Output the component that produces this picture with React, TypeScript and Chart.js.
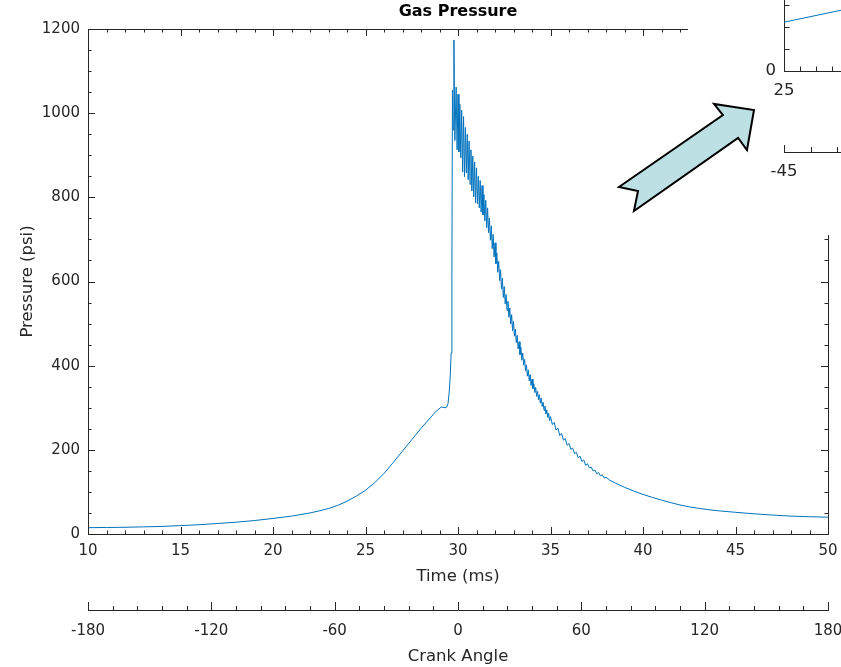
import React, { useEffect, useRef } from 'react';
import { Chart, registerables } from 'chart.js';

Chart.register(...registerables);

// ---------- data ----------
const timeMs = [
  10, 11, 12, 13, 14, 15, 16, 17, 18, 19, 20, 21, 22, 22.5, 23, 23.5, 24, 24.5, 25, 25.5, 26, 26.5,
  27, 27.5, 28, 28.5, 28.8, 29.1, 29.3, 29.4, 29.46, 29.52, 29.58, 29.63, 29.67, 29.7, 29.74, 29.78,
  29.83, 29.9, 29.95, 30.0, 30.05, 30.1, 30.15, 30.2, 30.25, 30.3, 30.35, 30.4, 30.45, 30.5,
  30.55, 30.6, 30.65, 30.7, 30.75, 30.8, 30.85, 30.9, 30.95, 31.0, 31.05, 31.1, 31.15, 31.2,
  31.25, 31.3, 31.35, 31.4, 31.45, 31.5, 31.55, 31.6, 31.65, 31.7, 31.75, 31.8, 31.85, 31.9,
  31.95, 32.0, 32.05, 32.1, 32.15, 32.2, 32.25, 32.3, 32.35, 32.4, 32.45, 32.5, 32.55, 32.6,
  32.65, 32.7, 32.75, 32.8, 32.85, 32.9, 32.95, 33.0, 33.05, 33.1, 33.15, 33.2, 33.25, 33.3,
  33.35, 33.4, 33.45, 33.5, 33.55, 33.6, 33.65, 33.7, 33.75, 33.8, 33.85, 33.9, 33.95, 34.0,
  34.05, 34.1, 34.15, 34.2, 34.25, 34.3, 34.35, 34.4, 34.45, 34.5, 34.55, 34.6, 34.65, 34.7,
  34.75, 34.8, 34.85, 34.9, 34.95, 35.0, 35.1, 35.2, 35.3, 35.4, 35.5, 35.6, 35.7, 35.8,
  35.9, 36.0, 36.1, 36.2, 36.3, 36.4, 36.5, 36.6, 36.7, 36.8, 36.9, 37.0, 37.1, 37.2, 37.3,
  37.4, 37.5, 37.6, 37.7, 37.8, 37.9, 38.0, 38.2, 38.5, 39, 39.5, 40, 40.5, 41, 41.5, 42,
  42.5, 43, 43.5, 44, 45, 46, 47, 48, 49, 50,
];
const pressurePsi = [
  15, 15.5, 16, 17, 18, 20, 22, 25, 28, 32, 37, 42.5, 50, 55, 60.5, 68, 78, 90, 104, 122, 144, 170,
  197, 224, 251, 276, 291, 302, 300, 302, 310, 335, 375, 430, 620, 1055, 960, 1174,
  935, 1062, 913, 1045, 908, 1021, 894, 1007, 860, 992, 849, 966, 858, 950,
  842, 934, 831, 913, 815, 898, 801, 884, 787, 870, 785, 850, 775, 840,
  765, 828, 758, 807, 744, 793, 728, 775, 716, 751, 698, 732, 678, 712,
  658, 692, 642, 668, 622, 648, 602, 628, 582, 608, 562, 588, 547, 569,
  531, 553, 515, 537, 499, 521, 483, 505, 470, 487, 455, 472, 440, 457,
  426, 444, 413, 430, 401, 415, 388, 402, 375, 390, 364, 379, 353, 368,
  345, 357, 336, 348, 327, 339, 319, 331, 311, 323, 303, 313, 294, 304,
  285, 295, 277, 287, 269, 279, 260, 265, 247, 252, 234, 239, 223, 227,
  211, 215, 201, 204, 191, 194, 181, 185, 172, 176, 163, 167, 157, 159, 150,
  152, 143, 146, 138, 141, 133, 135, 128, 121, 111, 102, 94, 87, 80.5, 74.5, 69,
  64.5, 61, 58, 55.5, 51.5, 48, 45, 42.5, 41, 40,
];

// inset (zoomed view, only its lower-left corner is visible)
const insetTimeMs = [25, 30];
const insetPressurePsi = [111, 149];

// arrow annotation, anchored in data units (time ms, psi)
const arrowTimeMs = [38.7, 44.32, 43.84, 46.0, 45.62, 45.14, 39.51, 39.73];
const arrowPsi = [824.6, 995.6, 1021.8, 1007.5, 912.5, 941.0, 767.5, 815.1];

const FONT = '"DejaVu Sans", sans-serif';
const INK = '#262626';
const BLUE = '#0072BD';

function line(ctx: CanvasRenderingContext2D, x1: number, y1: number, x2: number, y2: number) {
  ctx.moveTo(x1, y1);
  ctx.lineTo(x2, y2);
}
const al = (v: number) => Math.round(v) + 0.5;

export default function App() {
  const mainRef = useRef<HTMLCanvasElement>(null);
  const insetRef = useRef<HTMLCanvasElement>(null);
  const overlayRef = useRef<HTMLCanvasElement>(null);

  useEffect(() => {
    const mainTicks = {
      id: 'mainTicks',
      afterDraw(chart: any) {
        const ctx = chart.ctx as CanvasRenderingContext2D;
        const { left, right, top, bottom } = chart.chartArea;
        const xs = chart.scales.x;
        const ys = chart.scales.y;
        const cs = chart.scales.crank;
        ctx.save();
        ctx.strokeStyle = INK;
        ctx.lineWidth = 1;
        ctx.beginPath();
        line(ctx, left, al(top), right + 1, al(top));
        line(ctx, al(right), top, al(right), bottom + 1);
        for (let v = 10; v <= 50; v += 1) {
          const px = al(xs.getPixelForValue(v));
          const len = v % 5 === 0 ? 7 : 3.5;
          line(ctx, px, bottom, px, bottom - len);
          line(ctx, px, top, px, top + len);
        }
        for (let v = 0; v <= 1200; v += 50) {
          const py = al(ys.getPixelForValue(v));
          const len = v % 200 === 0 ? 7 : 3.5;
          line(ctx, left, py, left + len, py);
          line(ctx, right, py, right - len, py);
        }
        const cy = cs.top;
        for (let v = -180; v <= 180; v += 12) {
          const px = al(cs.getPixelForValue(v));
          const len = v % 60 === 0 ? 8 : 4;
          line(ctx, px, cy, px, cy - len);
        }
        ctx.stroke();
        ctx.restore();

        // arrow annotation on the overlay (above the inset)
        const ov = overlayRef.current;
        if (ov) {
          const o = ov.getContext('2d')!;
          o.clearRect(0, 0, ov.width, ov.height);
          o.beginPath();
          arrowTimeMs.forEach((t, i) => {
            const px = xs.getPixelForValue(t);
            const py = ys.getPixelForValue(arrowPsi[i]);
            if (i === 0) o.moveTo(px, py);
            else o.lineTo(px, py);
          });
          o.closePath();
          o.fillStyle = '#BDE0E4';
          o.fill();
          o.lineWidth = 2;
          o.lineJoin = 'miter';
          o.strokeStyle = '#000000';
          o.stroke();
        }
      },
    };

    const main = new Chart(mainRef.current!, {
      type: 'line',
      data: {
        datasets: [
          {
            data: timeMs.map((t, i) => ({ x: t, y: pressurePsi[i] })),
            borderColor: BLUE,
            borderWidth: 1,
            pointRadius: 0,
            tension: 0,
            fill: false,
          },
        ],
      },
      options: {
        responsive: false,
        animation: false,
        events: [],
        layout: { padding: { left: 0, right: 13, top: 0, bottom: 0 } },
        plugins: {
          legend: { display: false },
          tooltip: { enabled: false },
          title: {
            display: true,
            fullSize: false,
            text: 'Gas Pressure',
            color: '#000',
            font: { family: FONT, size: 16, weight: 'bold' },
            padding: { top: 2.4, bottom: 7.4 },
          },
        },
        scales: {
          x: {
            type: 'linear',
            position: 'bottom',
            weight: 0,
            min: 10,
            max: 50,
            ticks: {
              stepSize: 5,
              autoSkip: false,
              maxRotation: 0,
              color: INK,
              font: { family: FONT, size: 15 },
              padding: 8.5,
              callback: (v: any) => String(v),
            },
            grid: { display: false, drawTicks: false },
            border: { display: true, color: INK, width: 1 },
            title: {
              display: true,
              text: 'Time (ms)',
              color: INK,
              font: { family: FONT, size: 16.5 },
              padding: { top: 0, bottom: 23 },
            },
            afterFit: (s: any) => {
              s.height = 76;
              s.paddingLeft = 0;
              s.paddingRight = 0;
            },
          },
          crank: {
            type: 'linear',
            position: 'bottom',
            weight: 1,
            min: -180,
            max: 180,
            ticks: {
              stepSize: 60,
              autoSkip: false,
              maxRotation: 0,
              color: INK,
              font: { family: FONT, size: 15 },
              padding: 12,
              callback: (v: any) => String(v),
            },
            grid: { display: false, drawTicks: false },
            border: { display: true, color: INK, width: 1 },
            title: {
              display: true,
              text: 'Crank Angle',
              color: INK,
              font: { family: FONT, size: 16.5 },
              padding: { top: 0, bottom: 0.5 },
            },
            afterFit: (s: any) => {
              s.height = 57;
              s.paddingLeft = 0;
              s.paddingRight = 0;
            },
          },
          y: {
            type: 'linear',
            position: 'left',
            min: 0,
            max: 1200,
            ticks: {
              stepSize: 200,
              autoSkip: false,
              color: INK,
              font: { family: FONT, size: 15 },
              padding: 8,
              callback: (v: any) => String(v),
            },
            grid: { display: false, drawTicks: false },
            border: { display: true, color: INK, width: 1 },
            title: {
              display: true,
              text: 'Pressure (psi)',
              color: INK,
              font: { family: FONT, size: 16.5 },
              padding: { top: 18, bottom: 0 },
            },
            afterFit: (s: any) => {
              s.width = 88;
              s.paddingTop = 0;
              s.paddingBottom = 0;
            },
          },
        },
      },
      plugins: [mainTicks],
    } as any);

    const insetTicks = {
      id: 'insetTicks',
      afterDraw(chart: any) {
        const ctx = chart.ctx as CanvasRenderingContext2D;
        const { left, bottom } = chart.chartArea;
        const xs = chart.scales.x;
        const ys = chart.scales.y;
        const cs = chart.scales.crank;
        ctx.save();
        ctx.strokeStyle = INK;
        ctx.lineWidth = 1;
        ctx.beginPath();
        for (let v = 25; v <= 35; v += 1) {
          const px = al(xs.getPixelForValue(v));
          const len = v % 5 === 0 ? 7 : 4.5;
          line(ctx, px, bottom, px, bottom - len);
        }
        for (let v = 0; v <= 250; v += 50) {
          const py = al(ys.getPixelForValue(v));
          line(ctx, left, py, left + 5.5, py);
        }
        const cy = cs.top;
        for (let v = -45; v <= 45; v += 15) {
          const px = al(cs.getPixelForValue(v));
          const len = v % 45 === 0 ? 7 : 5;
          line(ctx, px, cy, px, cy - len);
        }
        ctx.stroke();
        ctx.restore();
      },
    };

    const inset = new Chart(insetRef.current!, {
      type: 'line',
      data: {
        datasets: [
          {
            data: insetTimeMs.map((t, i) => ({ x: t, y: insetPressurePsi[i] })),
            borderColor: BLUE,
            borderWidth: 1,
            pointRadius: 0,
            tension: 0,
            fill: false,
          },
        ],
      },
      options: {
        responsive: false,
        animation: false,
        events: [],
        layout: { padding: { left: 0, right: 44, top: 61, bottom: 0 } },
        plugins: { legend: { display: false }, tooltip: { enabled: false }, title: { display: false } },
        scales: {
          x: {
            type: 'linear',
            position: 'bottom',
            weight: 0,
            min: 25,
            max: 35,
            ticks: {
              stepSize: 5,
              autoSkip: false,
              maxRotation: 0,
              color: INK,
              font: { family: FONT, size: 16.5 },
              padding: 10,
              callback: (v: any) => String(v),
            },
            grid: { display: false, drawTicks: false },
            border: { display: true, color: INK, width: 1 },
            afterFit: (s: any) => {
              s.height = 81;
              s.paddingLeft = 0;
              s.paddingRight = 0;
            },
          },
          crank: {
            type: 'linear',
            position: 'bottom',
            weight: 1,
            min: -45,
            max: 45,
            ticks: {
              stepSize: 15,
              autoSkip: false,
              maxRotation: 0,
              color: INK,
              font: { family: FONT, size: 16.5 },
              padding: 10,
              callback: (v: any) => (v % 45 === 0 ? String(v) : ''),
            },
            grid: { display: false, drawTicks: false },
            border: { display: true, color: INK, width: 1 },
            afterFit: (s: any) => {
              s.height = 83;
              s.paddingLeft = 0;
              s.paddingRight = 0;
            },
          },
          y: {
            type: 'linear',
            position: 'left',
            min: 0,
            max: 250,
            ticks: {
              stepSize: 50,
              autoSkip: false,
              color: INK,
              font: { family: FONT, size: 16.5 },
              padding: 8,
              callback: (v: any) => (v % 200 === 0 ? String(v) : ''),
            },
            grid: { display: false, drawTicks: false },
            border: { display: true, color: INK, width: 1 },
            afterFit: (s: any) => {
              s.width = 96;
              s.paddingTop = 0;
              s.paddingBottom = 0;
            },
          },
        },
      },
      plugins: [insetTicks],
    } as any);

    return () => {
      main.destroy();
      inset.destroy();
    };
  }, []);

  return (
    <div
      style={{
        position: 'fixed',
        left: 0,
        top: 0,
        width: 841,
        height: 667,
        overflow: 'hidden',
        background: '#ffffff',
      }}
    >
      <canvas
        ref={mainRef}
        width={841}
        height={667}
        style={{ position: 'absolute', left: 0, top: 0, width: 841, height: 667 }}
      />
      <div
        style={{
          position: 'absolute',
          left: 688,
          top: -100,
          width: 300,
          height: 335,
          background: '#ffffff',
        }}
      >
        <canvas ref={insetRef} width={300} height={335} style={{ width: 300, height: 335 }} />
      </div>
      <canvas
        ref={overlayRef}
        width={841}
        height={667}
        style={{ position: 'absolute', left: 0, top: 0, width: 841, height: 667, pointerEvents: 'none' }}
      />
    </div>
  );
}
